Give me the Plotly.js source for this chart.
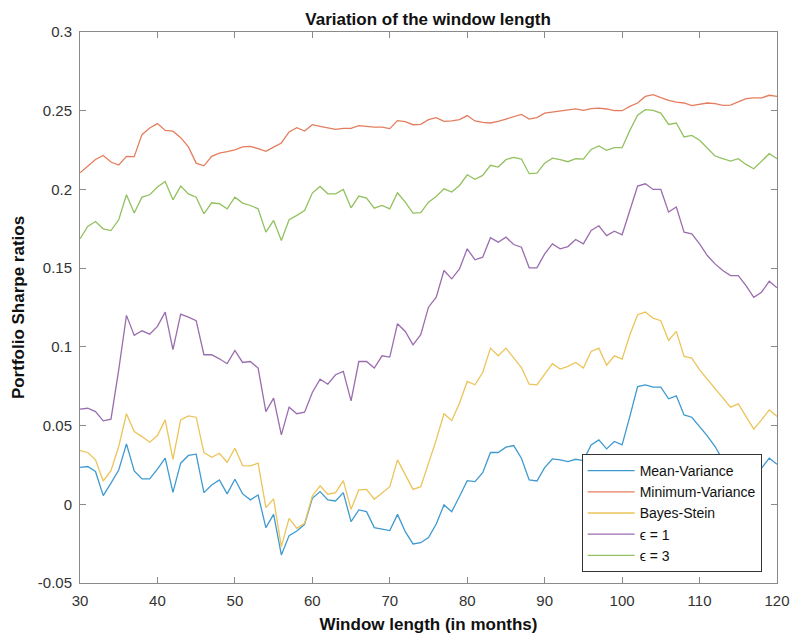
<!DOCTYPE html>
<html>
<head>
<meta charset="utf-8">
<script src="https://cdn.plot.ly/plotly-3.0.1.min.js"></script>
<style>html,body{margin:0;padding:0;background:#fff;}#chart{width:792px;height:637px;}</style>
</head>
<body>
<div id="chart"></div>
<script>
const months = [30,31,32,33,34,35,36,37,38,39,40,41,42,43,44,45,46,47,48,49,50,51,52,53,54,55,56,57,58,59,60,61,62,63,64,65,66,67,68,69,70,71,72,73,74,75,76,77,78,79,80,81,82,83,84,85,86,87,88,89,90,91,92,93,94,95,96,97,98,99,100,101,102,103,104,105,106,107,108,109,110,111,112,113,114,115,116,117,118,119,120];

const meanVariance = [0.0235,0.024,0.0208,0.0055,0.0134,0.0218,0.0384,0.0212,0.0161,0.0161,0.0223,0.0293,0.0076,0.0261,0.031,0.0318,0.0074,0.0123,0.0155,0.0066,0.0159,0.0066,0.0028,0.0059,-0.0148,-0.0064,-0.0322,-0.0199,-0.017,-0.0127,0.0038,0.0081,0.0028,0.0021,0.0074,-0.011,-0.0036,-0.0047,-0.0148,-0.0159,-0.0167,-0.0064,-0.0174,-0.0252,-0.0244,-0.0212,-0.0125,-0.0004,-0.0047,0.0049,0.015,0.0144,0.0201,0.0329,0.0329,0.0363,0.0373,0.0293,0.0155,0.0148,0.0233,0.0288,0.0282,0.0271,0.0286,0.0278,0.0377,0.0409,0.0352,0.0399,0.0377,0.0558,0.0748,0.0759,0.0744,0.0744,0.067,0.0689,0.0568,0.0553,0.0494,0.0435,0.0367,0.0282,0.0218,0.0208,0.0197,0.0187,0.0229,0.0293,0.0254];

const minimumVariance = [0.2106,0.2148,0.219,0.2216,0.2174,0.2155,0.221,0.2208,0.2348,0.239,0.2418,0.2375,0.237,0.2329,0.227,0.2167,0.215,0.221,0.2231,0.224,0.2252,0.227,0.2273,0.2259,0.2242,0.2269,0.2295,0.2365,0.2392,0.2371,0.2411,0.24,0.2392,0.2382,0.2388,0.2388,0.2405,0.2399,0.2396,0.2396,0.2386,0.2437,0.243,0.2411,0.2413,0.2443,0.2456,0.2432,0.2435,0.2443,0.2469,0.2435,0.2426,0.2422,0.2432,0.2447,0.2464,0.2477,0.2447,0.2456,0.2485,0.2492,0.2496,0.2502,0.2511,0.2502,0.2513,0.2517,0.2511,0.25,0.25,0.2528,0.2549,0.2591,0.2602,0.2583,0.2566,0.2555,0.2549,0.2532,0.2541,0.2549,0.2545,0.2534,0.2536,0.2555,0.2577,0.2581,0.2581,0.2598,0.2591];

const bayesStein = [0.0341,0.0329,0.0282,0.0148,0.0214,0.0367,0.0575,0.0462,0.043,0.0394,0.0437,0.0536,0.0286,0.0536,0.0562,0.0553,0.0329,0.0299,0.0324,0.0267,0.0356,0.0246,0.0244,0.0261,-0.0021,0.0034,-0.0269,-0.0089,-0.0153,-0.0121,0.0053,0.0117,0.0064,0.0074,0.015,-0.0032,0.0091,0.0095,0.0032,0.0074,0.0112,0.0282,0.0187,0.0095,0.0112,0.0261,0.0409,0.0575,0.0532,0.0642,0.078,0.0759,0.0837,0.0992,0.0943,0.0992,0.0929,0.0869,0.0763,0.0759,0.0827,0.0893,0.0859,0.0876,0.0901,0.0865,0.0971,0.0992,0.0883,0.0943,0.0922,0.1077,0.1204,0.1221,0.1183,0.1166,0.1041,0.1098,0.0939,0.0929,0.0854,0.0795,0.0738,0.0674,0.0617,0.0638,0.0558,0.0477,0.0536,0.06,0.0558];

const epsilon1 = [0.0604,0.061,0.0589,0.053,0.0541,0.0854,0.12,0.1073,0.1102,0.1081,0.113,0.1221,0.0982,0.1208,0.1189,0.1166,0.095,0.095,0.0924,0.0893,0.0977,0.0901,0.0907,0.0865,0.0589,0.0674,0.0441,0.0617,0.0575,0.0585,0.071,0.0795,0.0763,0.0823,0.0844,0.0657,0.0907,0.0907,0.0865,0.0943,0.0935,0.1147,0.1098,0.1013,0.1077,0.1252,0.1315,0.1485,0.1432,0.1495,0.1623,0.1553,0.157,0.1693,0.1665,0.1697,0.165,0.1633,0.1502,0.1502,0.1591,0.1654,0.1623,0.1637,0.1682,0.1654,0.1739,0.1769,0.1707,0.1735,0.1712,0.1866,0.2021,0.2036,0.2,0.2,0.1856,0.1888,0.1729,0.1718,0.1654,0.158,0.1527,0.1485,0.1453,0.1453,0.1389,0.1315,0.1347,0.1417,0.1375];

const epsilon3 = [0.1686,0.1765,0.1796,0.175,0.1739,0.1807,0.1966,0.185,0.1951,0.1966,0.2015,0.2051,0.1934,0.2021,0.1972,0.1951,0.1845,0.1915,0.1909,0.1877,0.1951,0.1913,0.1898,0.1877,0.1729,0.1803,0.1676,0.1807,0.1835,0.1866,0.1977,0.2019,0.1972,0.1972,0.2,0.1883,0.1958,0.1945,0.1881,0.1898,0.1877,0.1979,0.1919,0.185,0.1853,0.1919,0.1955,0.2004,0.1983,0.2025,0.2093,0.2064,0.2089,0.2153,0.2142,0.2189,0.2204,0.2193,0.21,0.2104,0.2167,0.2199,0.2189,0.2176,0.2195,0.2193,0.2254,0.2276,0.2248,0.2265,0.2265,0.2375,0.2471,0.2507,0.2502,0.2485,0.2413,0.2422,0.2333,0.2343,0.2312,0.2259,0.2212,0.2195,0.218,0.2195,0.2159,0.2131,0.218,0.2227,0.2195];

const seriesNames = ['Mean-Variance','Minimum-Variance','Bayes-Stein','\u03F5 = 1','\u03F5 = 3'];
const seriesColors = ['#3F9AD0','#E47D5E','#EBC45A','#9A6DAE','#93C160'];
const seriesData = [meanVariance, minimumVariance, bayesStein, epsilon1, epsilon3];

const xTickVals = [30,40,50,60,70,80,90,100,110,120];
const xTickText = ['30','40','50','60','70','80','90','100','110','120'];
const yTickVals = [-0.05,0,0.05,0.1,0.15,0.2,0.25,0.3];
const yTickText = ['-0.05','0','0.05','0.1','0.15','0.2','0.25','0.3'];

const traces = seriesData.map((ys, i) => ({
  x: months, y: ys, type: 'scatter', mode: 'lines', name: seriesNames[i],
  line: {color: seriesColors[i], width: 1.3}
}));

const axisCommon = {
  showline: true, linecolor: '#8a8a8a', linewidth: 1, mirror: 'ticks',
  ticks: 'inside', ticklen: 6, tickcolor: '#8a8a8a', tickwidth: 1,
  showgrid: false, zeroline: false,
  tickfont: {family: 'Liberation Sans, Arial, sans-serif', size: 15, color: '#333'}
};

const layout = {
  width: 792, height: 637,
  margin: {l: 80, r: 15, t: 32, b: 54, pad: 0},
  paper_bgcolor: '#fff', plot_bgcolor: '#fff',
  title: {text: '<b>Variation of the window length</b>', x: 0.5405, xanchor: 'center', y: 0.97, yanchor: 'middle',
          font: {family: 'Liberation Sans, Arial, sans-serif', size: 17, color: '#111'}},
  xaxis: Object.assign({}, axisCommon, {
    range: [30, 120], tickvals: xTickVals, ticktext: xTickText, ticklabelstandoff: 4,
    title: {text: '<b>Window length (in months)</b>', standoff: 10,
            font: {family: 'Liberation Sans, Arial, sans-serif', size: 17, color: '#111'}}
  }),
  yaxis: Object.assign({}, axisCommon, {
    range: [-0.05, 0.3], tickvals: yTickVals, ticktext: yTickText, ticklabelstandoff: 4,
    title: {text: '<b>Portfolio Sharpe ratios</b>', standoff: 8,
            font: {family: 'Liberation Sans, Arial, sans-serif', size: 17, color: '#111'}}
  }),
  showlegend: true,
  legend: {x: 0.978, xanchor: 'right', y: 0.02, yanchor: 'bottom',
           bgcolor: '#fff', bordercolor: '#333', borderwidth: 1,
           font: {family: 'Liberation Sans, Arial, sans-serif', size: 14, color: '#111'},
           tracegroupgap: 0, itemwidth: 47}
};

Plotly.newPlot('chart', traces, layout, {displayModeBar: false, staticPlot: true});
</script>
</body>
</html>
